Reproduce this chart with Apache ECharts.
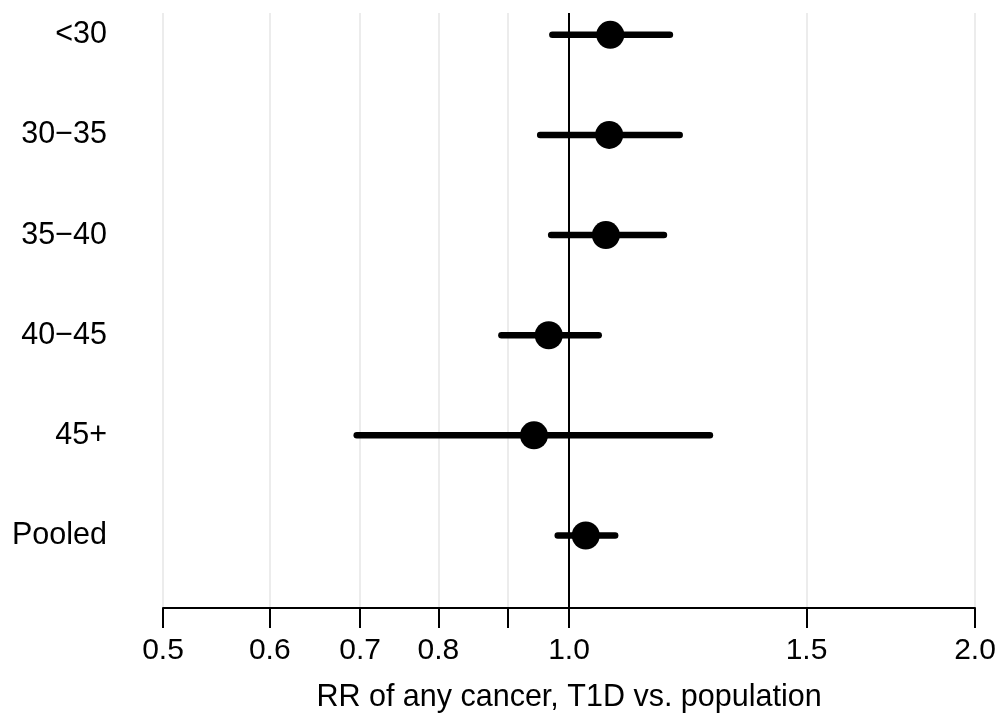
<!DOCTYPE html>
<html>
<head>
<meta charset="utf-8">
<script src="https://cdn.jsdelivr.net/npm/echarts@6/dist/echarts.min.js"></script>
<style>html,body{margin:0;padding:0;background:#fff}#c{width:1000px;height:718px}</style>
</head>
<body>
<div id="c"></div>
<script>
const groups = ['<30', '30\u221235', '35\u221240', '40\u221245', '45+', 'Pooled'];
const rr = [1.073, 1.071, 1.065, 0.966, 0.942, 1.029];
const ciLow = [0.972, 0.952, 0.970, 0.891, 0.696, 0.981];
const ciHigh = [1.188, 1.208, 1.176, 1.052, 1.272, 1.082];
const labelTicks = [0.5, 0.6, 0.7, 0.8, 1.0, 1.5, 2.0];
const tickValues = [0.5, 0.6, 0.7, 0.8, 0.9, 1.0, 1.5, 2.0];
const rowPos = [1, 2, 3, 4, 5, 6];

const font = 'Liberation Sans, Arial, Helvetica, sans-serif';
const chart = echarts.init(document.getElementById('c'), null, {renderer: 'canvas'});

const ciData = rowPos.map((p, i) => [ciLow[i], ciHigh[i], p]);
const ptData = rowPos.map((p, i) => [rr[i], p]);

chart.setOption({
  animation: false,
  backgroundColor: '#ffffff',
  grid: {left: 163, right: 25, top: 13, bottom: 106, containLabel: false},
  xAxis: {
    type: 'log',
    logBase: 10,
    min: 0.5,
    max: 2.0,
    name: 'RR of any cancer, T1D vs. population',
    nameLocation: 'middle',
    nameGap: 74,
    nameTextStyle: {fontFamily: font, fontSize: 30.5, color: '#000', verticalAlign: 'top'},
    axisLine: {show: true, onZero: false, lineStyle: {color: '#000', width: 2}},
    axisTick: {show: true, customValues: tickValues, length: 20, lineStyle: {color: '#000', width: 2}},
    axisLabel: {
      show: true,
      customValues: labelTicks,
      margin: 28,
      fontFamily: font, fontSize: 30, color: '#000',
      formatter: v => Number(v).toFixed(1)
    },
    splitLine: {show: true, lineStyle: {color: '#e6e6e6', width: 1.5}}
  },
  yAxis: {
    type: 'value',
    inverse: true,
    min: 0.782,
    max: 6.724,
    axisLine: {show: false},
    axisTick: {show: false},
    splitLine: {show: false},
    axisLabel: {
      show: true,
      customValues: rowPos,
      margin: 56,
      align: 'right',
      padding: [6, 0, 0, 0],
      fontFamily: font, fontSize: 30.5, color: '#000',
      formatter: v => groups[Math.round(v) - 1] || ''
    }
  },
  series: [
    {
      type: 'custom',
      z: 3,
      data: ciData,
      encode: {x: [0, 1], y: 2},
      renderItem: function (params, api) {
        const a = api.coord([api.value(0), api.value(2)]);
        const b = api.coord([api.value(1), api.value(2)]);
        return {
          type: 'line',
          shape: {x1: a[0], y1: a[1], x2: b[0], y2: b[1]},
          style: {stroke: '#000', lineWidth: 6.5, lineCap: 'round'}
        };
      },
      markLine: {
        silent: true,
        symbol: ['none', 'none'],
        label: {show: false},
        lineStyle: {color: '#000', width: 2, type: 'solid'},
        z: 2,
        data: [{xAxis: 1.0}]
      }
    },
    {
      type: 'scatter',
      z: 4,
      data: ptData,
      symbol: 'circle',
      symbolSize: 28,
      itemStyle: {color: '#000', opacity: 1}
    }
  ]
});
</script>
</body>
</html>
